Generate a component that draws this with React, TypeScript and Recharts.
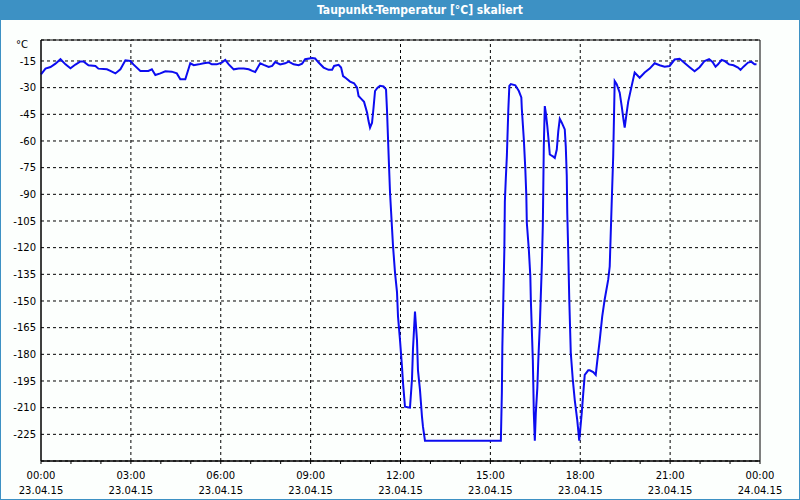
import React from 'react';
import {
  LineChart, Line, XAxis, YAxis, CartesianGrid, ReferenceLine, ReferenceArea
} from 'recharts';

// minutes since 23.04.15 00:00
const TIME_MIN = [
  0, 9, 19, 29, 39, 49, 59, 69, 79, 85, 95, 109, 115, 132, 139, 149, 159, 169, 179, 185,
  199, 215, 222, 229, 239, 249, 262, 272, 279, 289, 299, 306, 316, 326, 336, 342, 352, 362, 369, 376,
  386, 396, 406, 416, 423, 429, 439, 446, 456, 463, 469, 479, 489, 496, 506, 516, 523, 529, 543, 549,
  556, 566, 576, 583, 587, 596, 601, 605, 611, 619, 627, 633, 636, 641, 647, 653, 656, 659, 663, 666,
  669, 674, 679, 686, 691, 693, 697, 699, 705, 709, 713, 715, 719, 723, 725, 729, 739, 743, 745, 749,
  753, 755, 759, 763, 765, 769, 921, 923, 924, 926, 928, 929, 931, 933, 936, 938, 941, 950, 957, 962,
  963, 967, 970, 972, 973, 977, 980, 981, 983, 985, 986, 987, 989, 991, 994, 996, 999, 1001, 1003, 1005,
  1006, 1007, 1009, 1011, 1014, 1017, 1019, 1026, 1029, 1033, 1036, 1039, 1043, 1049, 1051, 1053, 1054, 1056, 1058, 1061,
  1065, 1069, 1074, 1078, 1083, 1086, 1089, 1096, 1099, 1106, 1111, 1114, 1119, 1124, 1129, 1136, 1139, 1143, 1146, 1149,
  1153, 1159, 1163, 1167, 1169, 1173, 1176, 1183, 1189, 1199, 1209, 1219, 1229, 1239, 1249, 1259, 1269, 1279, 1289, 1299,
  1309, 1319, 1329, 1338, 1345, 1351, 1356, 1363, 1369, 1378, 1387, 1396, 1401, 1407, 1416, 1423, 1429, 1433,
];

// dew point, °C
const DEW_POINT = [
  -22.5, -19.3, -18.4, -16.5, -14, -16.9, -19.1, -17, -15.3, -15.3, -17.4, -17.8, -19.3, -19.7, -20.6, -22, -19.7, -14.6, -15, -16.9,
  -20.6, -20.6, -19.7, -22.9, -22, -20.8, -21, -22, -25.3, -25.3, -16.3, -17.4, -16.9, -16.3, -15.9, -16.9, -16.9, -15.9, -14.4, -16.9,
  -19.7, -19.3, -19.3, -19.7, -20.6, -21.2, -16.3, -17.2, -18.4, -17.8, -15.6, -16.9, -16.3, -15.3, -16.9, -17.4, -16.5, -14, -13.3, -13.6,
  -15.9, -18.7, -20, -20, -17.8, -17.2, -18.7, -23.5, -24.7, -26.6, -27.5, -30, -34.7, -36.2, -38, -44, -48.8, -52.5, -49.7, -41.3,
  -31.9, -30, -29, -29.3, -31, -43, -74, -89, -119, -134, -145, -158.7, -172, -187, -196, -209.5, -210, -194, -177, -156,
  -172, -189, -200, -215, -220.7, -228.6, -228.6, -201.8, -175.6, -148, -121, -94, -80.6, -68.6, -42, -29, -28, -28.7, -31.9, -35.5,
  -42, -59, -76, -91, -106, -121, -136, -149, -166, -183, -197, -213, -228.6, -213, -199, -183, -164, -147, -130.6, -108,
  -85.5, -63, -40.4, -44, -51.6, -60.8, -67.6, -68.8, -69.5, -64.8, -54.5, -47.5, -49.7, -53.5, -63, -79.8, -100.5, -123, -149, -179,
  -194, -205.7, -217, -228.6, -213, -202, -191.6, -189, -189, -190, -191.6, -184, -172, -158.7, -149, -138, -130.6, -94.6, -68.6, -26.3,
  -28, -32.8, -40.4, -48.8, -52.5, -44, -38, -29, -21.5, -24.4, -21.5, -19.3, -16.3, -17.4, -18.2, -17.8, -14.2, -13.8, -16.1, -18.5,
  -20.8, -18.5, -15, -14, -15.5, -18.2, -16.9, -14.4, -15, -16.9, -17.4, -18.7, -20, -18.2, -15.9, -15.5, -16.9, -16.9,
];

const Y_TICKS = [-15, -30, -45, -60, -75, -90, -105, -120, -135, -150, -165, -180, -195, -210, -225];
const HOUR_TICKS = [
  0, 60, 120, 180, 240, 300, 360, 420, 480, 540, 600, 660, 720,
  780, 840, 900, 960, 1020, 1080, 1140, 1200, 1260, 1320, 1380, 1440,
];
const GRID_X = [180, 360, 540, 720, 900, 1080, 1260];
const TIME_LABELS = ['00:00', '03:00', '06:00', '09:00', '12:00', '15:00', '18:00', '21:00', '00:00'];
const DATE_LABELS = ['23.04.15', '23.04.15', '23.04.15', '23.04.15', '23.04.15', '23.04.15', '23.04.15', '23.04.15', '24.04.15'];

const data = TIME_MIN.map((t, i) => ({ t, v: DEW_POINT[i] }));

const FONT = "'DejaVu Sans', Verdana, sans-serif";

const TimeTick = (props: any) => {
  const { x, y, payload } = props;
  const idx = payload.value / 180;
  if (!Number.isInteger(idx)) return null;
  return (
    <g>
      <text x={x} y={y + 15} textAnchor="middle" fontSize={10} fontFamily={FONT} fill="#000">{TIME_LABELS[idx]}</text>
      <text x={x} y={y + 30} textAnchor="middle" fontSize={10} fontFamily={FONT} fill="#000">{DATE_LABELS[idx]}</text>
    </g>
  );
};

export default function App() {
  return (
    <div style={{
      position: 'absolute', left: 0, top: 0, width: 800, height: 500,
      background: '#fcfffd', boxSizing: 'border-box',
      border: '1px solid #3d91c4', borderTop: 'none', overflow: 'hidden',
    }}>
      <div style={{
        position: 'absolute', left: -1, top: 0, width: 800, height: 20, background: '#3d91c4',
        color: '#fff', fontFamily: "'DejaVu Sans Condensed', 'Liberation Sans Narrow', sans-serif",
        fontWeight: 'bold', fontSize: 12, lineHeight: '20px',
      }}>
        <span style={{ position: 'absolute', left: 300, top: 0, width: 240, textAlign: 'center' }}>
          Taupunkt-Temperatur [°C] skaliert
        </span>
      </div>
      <div style={{
        position: 'absolute', left: 15, top: 39, fontFamily: FONT, fontSize: 10, color: '#000',
      }}>°C</div>
      <div style={{ position: 'absolute', left: -1, top: 0 }}>
        <LineChart width={800} height={500} data={data} margin={{ top: 40, right: 40, left: 0, bottom: 0 }}>
          <CartesianGrid horizontal vertical={false} stroke="#000" strokeDasharray="3 3" />
          <XAxis
            dataKey="t" type="number" domain={[0, 1440]} ticks={HOUR_TICKS} interval={0}
            height={39} tickSize={3} tickMargin={0} stroke="#000" tick={<TimeTick />}
          />
          <YAxis
            type="number" domain={[-240, -3.2]} ticks={Y_TICKS} interval={0} allowDataOverflow
            width={41} tickLine={false} tickSize={3} tickMargin={2} stroke="#000"
            tick={{ fontSize: 10, fontFamily: FONT, fill: '#000' }}
          />
          {GRID_X.map((g) => (
            <ReferenceLine key={g} x={g} stroke="#000" strokeDasharray="3 3" />
          ))}
          <ReferenceArea x1={0} x2={1440} y1={-240} y2={-3.2} stroke="#000" fill="none" fillOpacity={0} />
          <Line type="linear" dataKey="v" stroke="#0c0cf0" strokeWidth={2} dot={false} isAnimationActive={false} />
        </LineChart>
      </div>
    </div>
  );
}
